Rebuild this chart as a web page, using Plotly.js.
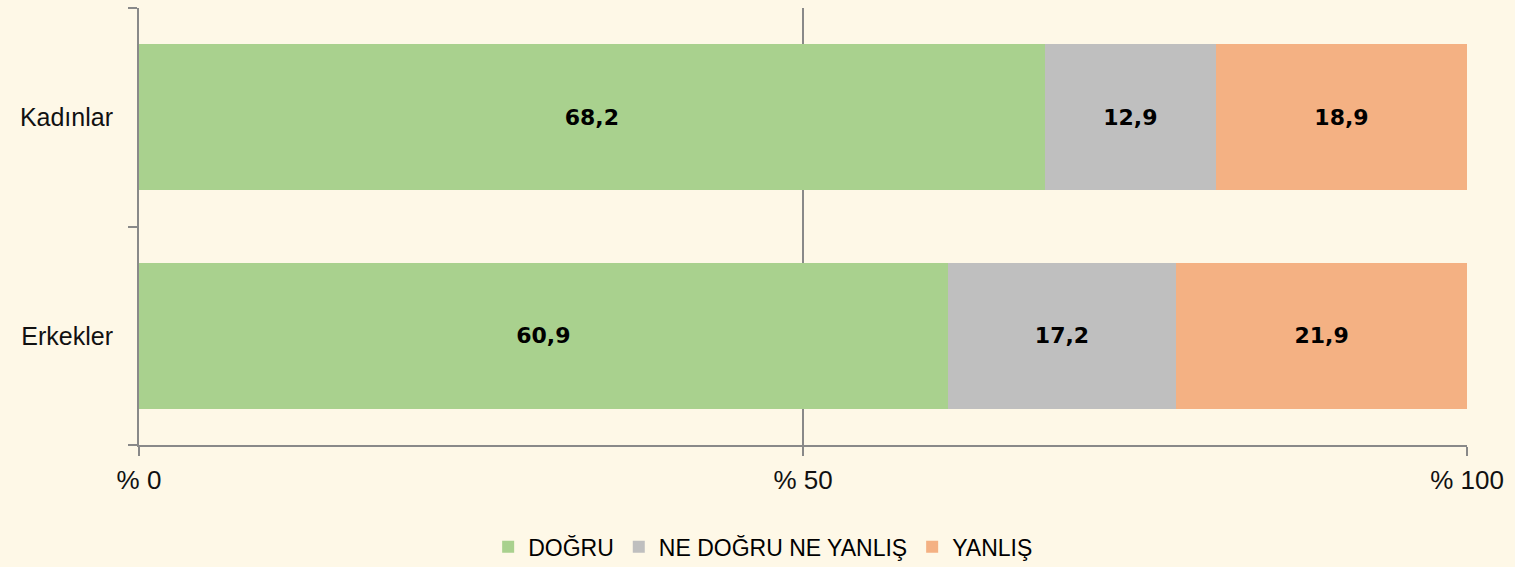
<!DOCTYPE html>
<html>
<head>
<meta charset="utf-8">
<script src="https://cdn.plot.ly/plotly-3.0.1.min.js"></script>
<style>
html,body{margin:0;padding:0;background:#FEF8E7;}
#chart{width:1515px;height:567px;}
</style>
</head>
<body>
<div id="chart"></div>
<script>
const categories = ["Erkekler", "Kadınlar"];
const seriesNames = ["DOĞRU", "NE DOĞRU NE YANLIŞ", "YANLIŞ"];
const dogru = [60.9, 68.2];
const neDogruNeYanlis = [17.2, 12.9];
const yanlis = [21.9, 18.9];
const xTickVals = [0, 50, 100];
const xTickText = ["% 0", "% 50", "% 100"];
const colors = ["#A9D18E", "#BFBFBF", "#F4B183"];

const values = [dogru, neDogruNeYanlis, yanlis];
const labelFont = "'Liberation Sans', Arial, sans-serif";

const traces = values.map((v, i) => ({
  type: "bar",
  orientation: "h",
  name: seriesNames[i],
  y: categories,
  x: v,
  marker: {color: colors[i]},
  text: v.map(n => n.toFixed(1).replace(".", ",")),
  textposition: "inside",
  insidetextanchor: "middle",
  textfont: {family: "'DejaVu Sans', sans-serif", size: 22, color: "#000", weight: 900},
  hoverinfo: "none"
}));

const layout = {
  width: 1515,
  height: 567,
  barmode: "stack",
  bargap: 0.33,
  paper_bgcolor: "#FEF8E7",
  plot_bgcolor: "#FEF8E7",
  margin: {l: 139, r: 48, t: 8, b: 122, autoexpand: false},
  font: {family: labelFont, color: "#000"},
  xaxis: {
    range: [0, 100],
    tickvals: xTickVals,
    ticktext: xTickText,
    ticks: "outside",
    ticklen: 9,
    tickwidth: 2,
    tickcolor: "#898989",
    showline: true,
    linecolor: "#898989",
    linewidth: 2,
    showgrid: true,
    gridcolor: "#898989",
    gridwidth: 1.5,
    zeroline: false,
    tickfont: {size: 26, family: labelFont, color: "#111"},
    ticklabelstandoff: 2
  },
  yaxis: {
    type: "category",
    categoryorder: "array",
    categoryarray: categories,
    tickson: "boundaries",
    ticks: "outside",
    ticklen: 9,
    tickwidth: 2,
    tickcolor: "#898989",
    showline: true,
    linecolor: "#898989",
    linewidth: 2,
    showgrid: false,
    zeroline: false,
    tickfont: {size: 25, family: labelFont, color: "#111"},
    ticklabelstandoff: 19
  },
  showlegend: true,
  legend: {
    orientation: "h",
    x: 0.47,
    xanchor: "center",
    y: -0.184,
    yanchor: "top",
    font: {size: 23, family: labelFont, color: "#000"},
    itemwidth: 30,
    traceorder: "normal"
  }
};

Plotly.newPlot("chart", traces, layout, {staticPlot: true});
</script>
</body>
</html>
